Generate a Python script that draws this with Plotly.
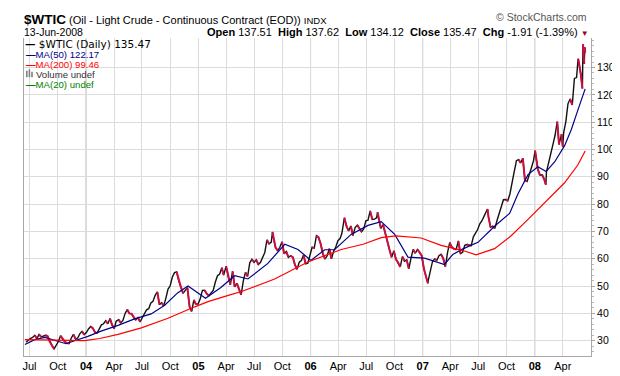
import plotly.graph_objects as go

# ---------------- data ----------------
wtic_2003 = [("2003-06-20",29.4),("2003-06-27",30.2),("2003-07-03",30.8),("2003-07-11",31.2),("2003-07-18",32.0),
             ("2003-07-25",30.8),("2003-08-01",32.3),("2003-08-08",31.4),("2003-08-15",31.6),("2003-08-22",32.0),
             ("2003-08-29",31.6),("2003-09-05",29.6),("2003-09-12",28.3),("2003-09-19",27.0),("2003-09-26",28.3),
             ("2003-10-03",29.7),("2003-10-10",31.8),("2003-10-17",30.8),("2003-10-24",29.6),("2003-10-31",29.1),
             ("2003-11-07",29.0),("2003-11-14",31.0),("2003-11-21",32.3),("2003-11-28",30.6),("2003-12-05",31.0),
             ("2003-12-12",32.6),("2003-12-19",33.4),("2003-12-26",32.2)]
wtic_2004 = [("2004-01-02",33.0),("2004-01-09",34.3),("2004-01-16",35.2),("2004-01-23",34.6),("2004-01-30",33.1),
             ("2004-02-06",32.8),("2004-02-13",34.1),("2004-02-20",35.8),("2004-02-27",36.2),("2004-03-05",37.3),
             ("2004-03-12",36.2),("2004-03-19",38.1),("2004-03-26",35.7),("2004-04-02",34.4),("2004-04-08",37.1),
             ("2004-04-16",37.7),("2004-04-23",36.5),("2004-04-30",37.4),("2004-05-07",39.9),("2004-05-14",41.4),
             ("2004-05-21",40.0),("2004-05-28",39.9),("2004-06-04",38.5),("2004-06-11",37.6),("2004-06-18",38.5),
             ("2004-06-25",36.9),("2004-07-02",38.4),("2004-07-09",39.9),("2004-07-16",41.3),("2004-07-23",41.7),
             ("2004-07-30",43.8),("2004-08-06",44.4),("2004-08-13",46.6),("2004-08-20",47.9),("2004-08-27",43.2),
             ("2004-09-03",43.9),("2004-09-10",42.8),("2004-09-17",45.6),("2004-09-24",48.9),("2004-10-01",50.1),
             ("2004-10-08",53.3),("2004-10-15",54.9),("2004-10-22",55.2),("2004-10-29",51.8),("2004-11-05",49.6),
             ("2004-11-12",47.3),("2004-11-19",48.4),("2004-11-26",49.4),("2004-12-03",42.5),("2004-12-10",40.7),
             ("2004-12-17",44.9),("2004-12-23",43.5),("2004-12-31",43.4)]
wtic_2005 = [("2005-01-07",45.4),("2005-01-14",48.4),("2005-01-21",48.5),("2005-01-28",47.2),("2005-02-04",46.5),
             ("2005-02-11",47.5),("2005-02-18",48.4),("2005-02-25",51.5),("2005-03-04",53.8),("2005-03-11",54.4),
             ("2005-03-18",56.7),("2005-03-24",54.0),("2005-04-01",57.3),("2005-04-08",53.3),("2005-04-15",50.5),
             ("2005-04-22",55.4),("2005-04-29",49.7),("2005-05-06",51.0),("2005-05-13",48.7),("2005-05-20",46.8),
             ("2005-05-27",51.9),("2005-06-03",55.0),("2005-06-10",53.5),("2005-06-17",58.5),("2005-06-24",59.8),
             ("2005-07-01",58.7),("2005-07-08",59.6),("2005-07-15",57.9),("2005-07-22",58.7),("2005-07-29",60.6),
             ("2005-08-05",62.3),("2005-08-12",66.9),("2005-08-19",65.4),("2005-08-26",66.1),("2005-08-30",69.8),
             ("2005-09-02",67.6),("2005-09-09",64.1),("2005-09-16",63.0),("2005-09-23",64.2),("2005-09-30",66.2),
             ("2005-10-07",61.8),("2005-10-14",62.6),("2005-10-21",60.5),("2005-10-28",61.1),("2005-11-04",60.6),
             ("2005-11-11",57.8),("2005-11-18",56.1),("2005-11-25",58.7),("2005-12-02",59.3),("2005-12-09",61.4),
             ("2005-12-16",58.1),("2005-12-23",58.4),("2005-12-30",61.0)]
wtic_2006 = [("2006-01-06",64.2),("2006-01-13",63.9),("2006-01-20",68.4),("2006-01-27",67.8),("2006-02-03",65.4),
             ("2006-02-10",61.8),("2006-02-17",59.9),("2006-02-24",61.1),("2006-03-03",63.7),("2006-03-10",60.0),
             ("2006-03-17",62.7),("2006-03-24",64.3),("2006-03-31",66.6),("2006-04-07",67.4),("2006-04-13",69.3),
             ("2006-04-21",75.0),("2006-04-28",71.9),("2006-05-05",70.2),("2006-05-12",72.0),("2006-05-19",68.5),
             ("2006-05-26",71.4),("2006-06-02",72.3),("2006-06-09",71.1),("2006-06-16",69.9),("2006-06-23",70.9),
             ("2006-06-30",73.9),("2006-07-07",74.1),("2006-07-14",77.5),("2006-07-21",74.4),("2006-07-28",74.5),
             ("2006-08-04",75.0),("2006-08-07",77.0),("2006-08-11",74.4),("2006-08-18",71.1),("2006-08-25",72.5),
             ("2006-09-01",69.2),("2006-09-08",66.3),("2006-09-15",63.3),("2006-09-22",60.5),("2006-09-29",62.9),
             ("2006-10-06",59.8),("2006-10-13",58.6),("2006-10-20",57.0),("2006-10-27",60.8),("2006-11-03",59.1),
             ("2006-11-10",59.6),("2006-11-17",56.3),("2006-11-24",60.2),("2006-12-01",63.4),("2006-12-08",62.0),
             ("2006-12-15",63.4),("2006-12-22",62.4),("2006-12-29",61.1)]
wtic_2007 = [("2007-01-05",56.3),("2007-01-12",53.0),("2007-01-18",51.0),("2007-01-19",52.0),("2007-01-26",55.4),
             ("2007-02-02",59.0),("2007-02-09",59.9),("2007-02-16",59.4),("2007-02-23",61.1),("2007-03-02",61.6),
             ("2007-03-09",60.1),("2007-03-16",57.1),("2007-03-23",62.3),("2007-03-30",65.9),("2007-04-05",64.4),
             ("2007-04-13",63.6),("2007-04-20",63.4),("2007-04-27",66.5),("2007-05-04",61.9),("2007-05-11",62.4),
             ("2007-05-18",64.9),("2007-05-25",65.2),("2007-06-01",65.1),("2007-06-08",64.8),("2007-06-15",68.0),
             ("2007-06-22",69.2),("2007-06-29",70.7),("2007-07-06",72.8),("2007-07-13",73.9),("2007-07-20",75.6),
             ("2007-07-27",77.0),("2007-07-31",78.2),("2007-08-03",75.5),("2007-08-10",71.5),("2007-08-17",71.9),
             ("2007-08-24",71.1),("2007-08-31",74.0),("2007-09-07",76.7),("2007-09-14",79.1),("2007-09-21",81.6),
             ("2007-09-28",81.7),("2007-10-05",81.2),("2007-10-12",83.7),("2007-10-19",88.6),("2007-10-26",91.9),
             ("2007-10-31",94.5),("2007-11-02",95.9),("2007-11-09",96.3),("2007-11-16",95.1),("2007-11-23",96.8),
             ("2007-11-30",88.7),("2007-12-07",88.3),("2007-12-14",91.3),("2007-12-21",93.3),("2007-12-28",96.0)]
wtic_2008 = [("2008-01-02",99.6),("2008-01-04",97.9),("2008-01-11",92.7),("2008-01-18",90.6),("2008-01-25",90.7),
             ("2008-02-01",89.0),("2008-02-06",87.1),("2008-02-08",91.8),("2008-02-15",95.5),("2008-02-22",98.8),
             ("2008-02-29",101.8),("2008-03-07",105.2),("2008-03-14",110.2),("2008-03-20",101.8),("2008-03-28",105.6),
             ("2008-04-01",101.0),("2008-04-04",106.2),("2008-04-11",110.1),("2008-04-18",116.7),("2008-04-25",118.5),
             ("2008-05-02",116.3),("2008-05-09",126.0),("2008-05-16",126.3),("2008-05-21",133.2),("2008-05-23",132.2),
             ("2008-05-30",127.4),("2008-06-04",122.3),("2008-06-06",138.5),("2008-06-10",131.3),("2008-06-12",137.4),
             ("2008-06-13",135.47)]

ma50_dates = ["2003-06-16","2003-07-18","2003-08-20","2003-09-09","2003-10-28","2003-11-25","2004-01-07",
              "2004-02-19","2004-04-14","2004-06-07","2004-07-31","2004-09-13","2004-10-25","2004-11-28",
              "2004-12-31","2005-01-24","2005-03-15","2005-04-29","2005-06-11","2005-08-15","2005-10-09",
              "2005-11-21","2006-01-02","2006-02-16","2006-03-20","2006-05-13","2006-07-07","2006-08-19",
              "2006-10-02","2006-11-14","2007-01-07","2007-03-13","2007-04-09","2007-05-12","2007-06-30",
              "2007-08-23","2007-10-11","2007-11-07","2007-12-10","2008-01-11","2008-02-07","2008-03-06",
              "2008-04-07","2008-04-29","2008-05-20","2008-06-13"]
ma50_values = [28.6, 30.4, 31.2, 30.6, 28.9, 30.0, 31.6,
               33.5, 35.6, 38.0, 39.8, 43.0, 47.5, 50.0,
               47.4, 45.5, 49.5, 53.8, 52.6, 58.3, 65.3,
               63.4, 59.4, 63.3, 63.3, 68.9, 72.2, 73.6,
               68.9, 60.6, 60.2, 57.9, 61.6, 63.6, 66.0,
               71.9, 76.6, 83.7, 90.8, 93.7, 91.9, 95.5,
               101.4, 107.3, 114.3, 122.17]

ma200_dates = ["2003-06-16","2003-10-01","2003-12-27","2004-02-15","2004-04-14","2004-06-29","2004-09-24",
               "2004-12-20","2005-02-01","2005-04-08","2005-05-21","2005-09-06","2005-12-23","2006-04-11",
               "2006-06-21","2006-08-19","2006-10-06","2006-12-27","2007-03-02","2007-05-12","2007-06-24",
               "2007-08-23","2007-10-16","2007-12-10","2008-02-13","2008-04-07","2008-05-20","2008-06-13"]
ma200_values = [30.4, 30.2, 30.0, 30.8, 32.3, 34.7, 38.2,
                42.4, 44.3, 46.6, 48.0, 52.6, 58.8, 63.4,
                65.3, 67.7, 68.4, 67.6, 64.9, 63.0, 61.4,
                63.7, 68.4, 74.4, 81.6, 87.8, 94.3, 99.46]

tick_dates = ["2003-07-01","2003-10-01",
              "2004-01-01","2004-04-01","2004-07-01","2004-10-01",
              "2005-01-01","2005-04-01","2005-07-01","2005-10-01",
              "2006-01-01","2006-04-01","2006-07-01","2006-10-01",
              "2007-01-01","2007-04-01","2007-07-01","2007-10-01",
              "2008-01-01","2008-04-01"]
tick_labels = ["Jul","Oct",
               "<b>04</b>","Apr","Jul","Oct",
               "<b>05</b>","Apr","Jul","Oct",
               "<b>06</b>","Apr","Jul","Oct",
               "<b>07</b>","Apr","Jul","Oct",
               "<b>08</b>","Apr"]
year_dates = ["2004-01-01","2005-01-01","2006-01-01","2007-01-01","2008-01-01"]
y_ticks = [30, 40, 50, 60, 70, 80, 90, 100, 110, 120, 130]

# ---------------- build ----------------
price = wtic_2003 + wtic_2004 + wtic_2005 + wtic_2006 + wtic_2007 + wtic_2008
price_dates = [d for d, v in price]
price_values = [v for d, v in price]

# down-moves drawn in crimson on top of the black line
down_x, down_y = [], []
for i in range(1, len(price_values)):
    if price_values[i] < price_values[i - 1]:
        if down_x and down_x[-1] == price_dates[i - 1]:
            down_x.append(price_dates[i]); down_y.append(price_values[i])
        else:
            if down_x:
                down_x.append(None); down_y.append(None)
            down_x += [price_dates[i - 1], price_dates[i]]
            down_y += [price_values[i - 1], price_values[i]]

fig = go.Figure()
fig.add_trace(go.Scatter(x=price_dates, y=price_values, mode="lines",
                         line=dict(color="#111111", width=1.4), hoverinfo="skip"))
fig.add_trace(go.Scatter(x=down_x, y=down_y, mode="lines",
                         line=dict(color="#cc1040", width=2), hoverinfo="skip"))
fig.add_trace(go.Scatter(x=ma50_dates, y=ma50_values, mode="lines",
                         line=dict(color="#000088", width=1.2), hoverinfo="skip"))
fig.add_trace(go.Scatter(x=ma200_dates, y=ma200_values, mode="lines",
                         line=dict(color="#ff0000", width=1.2), hoverinfo="skip"))

for d in year_dates:
    fig.add_shape(type="line", x0=d, x1=d, y0=0, y1=1, xref="x", yref="paper",
                  line=dict(color="#b4b4b4", width=1), layer="between")

FONT = "Liberation Sans, Arial, sans-serif"

def px_x(px):
    return (px - 16) / 567.0

def px_y(py):
    return (359 - py) / 329.0

# small grey volume-bar icon in the legend
for (xa, xb, ytop) in [(18, 19.6, 64), (20.6, 22.2, 62.5), (23.2, 24.8, 65)]:
    fig.add_shape(type="rect", xref="paper", yref="paper",
                  x0=px_x(xa), x1=px_x(xb), y0=px_y(70.5), y1=px_y(ytop),
                  fillcolor="#808080", line=dict(width=0), layer="above")

ann = []
ann.append(dict(x=px_x(15), y=px_y(10.5), xanchor="left", yanchor="middle",
                text="<b><span style='font-size:13.5px'>$WTIC</span></b> (Oil - Light Crude - Continuous Contract (EOD)) "
                     "<span style='font-size:9.5px'>INDX</span>",
                font=dict(family=FONT, size=11, color="#000000")))
ann.append(dict(x=px_x(580), y=px_y(8), xanchor="right", yanchor="middle",
                text="© StockCharts.com", font=dict(family=FONT, size=10.5, color="#555555")))
ann.append(dict(x=px_x(15), y=px_y(23.5), xanchor="left", yanchor="middle",
                text="13-Jun-2008", font=dict(family=FONT, size=10.5, color="#000000")))
ann.append(dict(x=px_x(582), y=px_y(23.5), xanchor="right", yanchor="middle",
                text="<b>Open</b> 137.51\u00a0 <b>High</b> 137.62\u00a0 <b>Low</b> 134.12\u00a0 "
                     "<b>Close</b> 135.47\u00a0 <b>Chg</b> -1.91 (-1.39%) "
                     "<span style='color:#990033;font-size:8px'>▼</span>",
                font=dict(family=FONT, size=11, color="#000000")))
# legend
ann.append(dict(x=px_x(16), y=px_y(36.5), xanchor="left", yanchor="middle",
                text="<b>—</b> $WTIC (Daily) 135.47",
                font=dict(family="DejaVu Sans", size=10.5, color="#000000")))
ann.append(dict(x=px_x(17), y=px_y(47), xanchor="left", yanchor="middle",
                text="<b>—</b>MA(50) 122.17", font=dict(family=FONT, size=9.6, color="#000088")))
ann.append(dict(x=px_x(17), y=px_y(57.2), xanchor="left", yanchor="middle",
                text="<b>—</b>MA(200) 99.46", font=dict(family=FONT, size=9.6, color="#ff0000")))
ann.append(dict(x=px_x(27), y=px_y(67.4), xanchor="left", yanchor="middle",
                text="Volume undef", font=dict(family=FONT, size=9.6, color="#333333")))
ann.append(dict(x=px_x(17), y=px_y(78), xanchor="left", yanchor="middle",
                text="<b>—</b>MA(20) undef", font=dict(family=FONT, size=9.6, color="#008000")))
for a in ann:
    a.update(xref="paper", yref="paper", showarrow=False, borderpad=0)

fig.update_layout(
    width=620, height=376,
    margin=dict(l=16, r=37, t=30, b=17),
    paper_bgcolor="white", plot_bgcolor="white",
    showlegend=False,
    annotations=ann,
    xaxis=dict(type="date", range=["2003-06-13", "2008-07-02"],
               tickmode="array", tickvals=tick_dates, ticktext=tick_labels,
               showgrid=True, gridcolor="#dcdcdc", gridwidth=1,
               showline=True, linecolor="#a8a8a8", linewidth=1,
               ticks="", zeroline=False,
               tickfont=dict(family=FONT, size=11, color="#000000")),
    yaxis=dict(side="right", range=[24.4, 140.8],
               tickmode="array", tickvals=y_ticks,
               showgrid=True, gridcolor="#dcdcdc", gridwidth=1,
               showline=True, mirror=True, linecolor="#a8a8a8", linewidth=1,
               ticks="outside", ticklen=3, tickcolor="#a8a8a8",
               minor=dict(ticks="outside", ticklen=2, dtick=2, tick0=0, tickcolor="#b8b8b8", showgrid=False),
               zeroline=False,
               tickfont=dict(family=FONT, size=10.5, color="#000000")),
)

fig.write_html("out.html")
